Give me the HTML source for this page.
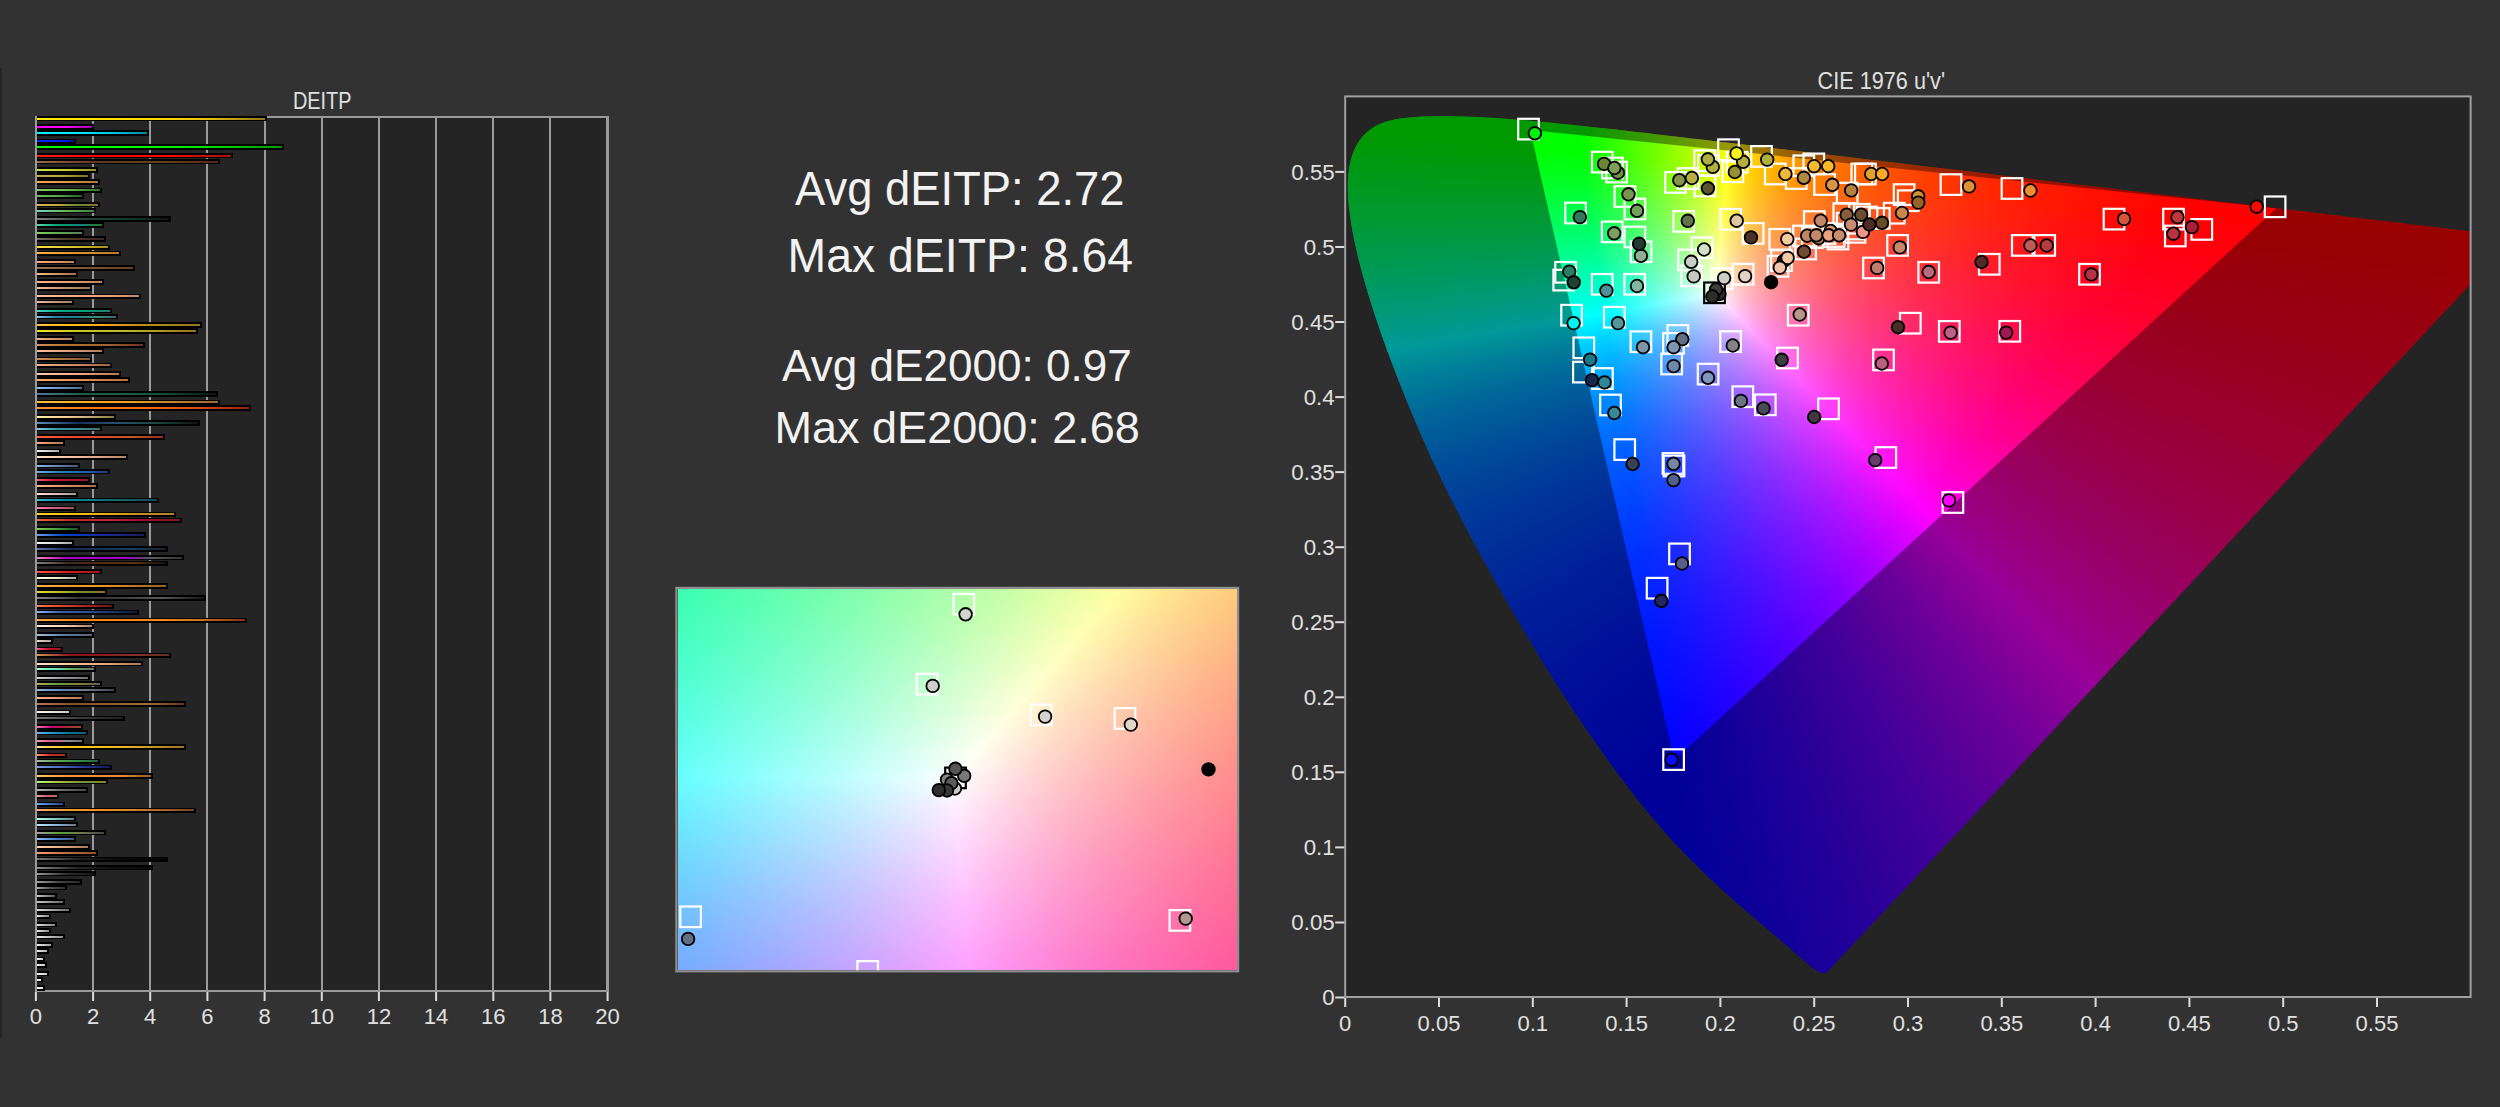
<!DOCTYPE html><html><head><meta charset="utf-8"><title>dEITP</title><style>
html,body{margin:0;padding:0;background:#323232;width:2500px;height:1107px}
#p{position:absolute;left:0;top:0;width:2500px;height:1107px;overflow:hidden;background:#323232;font-family:"Liberation Sans",sans-serif}
#p div{position:absolute}
.k{background:#000;height:5.6px;left:37px}.c{height:2px;left:37px}
svg{position:absolute;left:0;top:0}text{font-family:"Liberation Sans",sans-serif}
</style></head><body><div id="p">
<div style="left:35.9px;top:116.7px;width:571.7px;height:874.3px;background:#242424"></div>
<div style="left:34.9px;top:116.7px;width:2px;height:874.3px;background:#9a9a9a"></div><div style="left:92.1px;top:116.7px;width:2px;height:874.3px;background:#9a9a9a"></div><div style="left:149.2px;top:116.7px;width:2px;height:874.3px;background:#9a9a9a"></div><div style="left:206.4px;top:116.7px;width:2px;height:874.3px;background:#9a9a9a"></div><div style="left:263.6px;top:116.7px;width:2px;height:874.3px;background:#9a9a9a"></div><div style="left:320.8px;top:116.7px;width:2px;height:874.3px;background:#9a9a9a"></div><div style="left:377.9px;top:116.7px;width:2px;height:874.3px;background:#9a9a9a"></div><div style="left:435.1px;top:116.7px;width:2px;height:874.3px;background:#9a9a9a"></div><div style="left:492.3px;top:116.7px;width:2px;height:874.3px;background:#9a9a9a"></div><div style="left:549.4px;top:116.7px;width:2px;height:874.3px;background:#9a9a9a"></div><div style="left:606.6px;top:116.7px;width:2px;height:874.3px;background:#9a9a9a"></div>
<div style="left:34.9px;top:115.7px;width:573.7px;height:2px;background:#9a9a9a"></div>
<div style="left:34.9px;top:990.0px;width:573.7px;height:2px;background:#9a9a9a"></div>
<div style="left:0;top:68.2px;width:1.6px;height:969px;background:#242424"></div>
<div style="left:605.6px;top:115.7px;width:3.4px;height:876.3px;background:#9a9a9a"></div>
<div class="k" style="top:115.8px;width:230.4px"></div><div class="c" style="top:117.5px;width:228.4px;background:linear-gradient(90deg,#ffeb00,#ffe100,#ffdc00,#e6be14,#967814)"></div><div class="k" style="top:124.2px;width:57.0px"></div><div class="c" style="top:125.9px;width:55.0px;background:linear-gradient(90deg,#ff00ff,#ff00ff,#a000aa)"></div><div class="k" style="top:130.0px;width:112.2px"></div><div class="c" style="top:131.7px;width:110.2px;background:linear-gradient(90deg,#00f0ff,#00ebff,#00c8e6,#008c96)"></div><div class="k" style="top:138.5px;width:38.7px"></div><div class="c" style="top:140.2px;width:36.7px;background:linear-gradient(90deg,#0028ff,#001eff,#0014aa)"></div><div class="k" style="top:144.4px;width:247.2px"></div><div class="c" style="top:146.1px;width:245.2px;background:linear-gradient(90deg,#00ff00,#00ff00,#00e600,#009600)"></div><div class="k" style="top:152.8px;width:195.9px"></div><div class="c" style="top:154.5px;width:193.9px;background:linear-gradient(90deg,#ff1e14,#ff0000,#ff0a00,#a0140a)"></div><div class="k" style="top:158.9px;width:183.4px"></div><div class="c" style="top:160.6px;width:181.4px;background:linear-gradient(90deg,#966e50,#5a3723,#64461e,#502819)"></div><div class="k" style="top:167.0px;width:60.9px"></div><div class="c" style="top:168.7px;width:58.9px;background:linear-gradient(90deg,#bee646,#c8c832,#968c28)"></div><div class="k" style="top:173.2px;width:53.3px"></div><div class="c" style="top:174.9px;width:51.3px;background:linear-gradient(90deg,#c8aa50,#b4aa32,#826e28)"></div><div class="k" style="top:179.2px;width:63.0px"></div><div class="c" style="top:180.9px;width:61.0px;background:linear-gradient(90deg,#faaa5a,#dc9646,#aa783c)"></div><div class="k" style="top:187.5px;width:64.7px"></div><div class="c" style="top:189.2px;width:62.7px;background:linear-gradient(90deg,#82c86e,#6eb450,#287828)"></div><div class="k" style="top:193.3px;width:46.6px"></div><div class="c" style="top:195.0px;width:44.6px;background:linear-gradient(90deg,#6ebe5a,#5aa050,#1e6428)"></div><div class="k" style="top:201.8px;width:63.0px"></div><div class="c" style="top:203.5px;width:61.0px;background:linear-gradient(90deg,#dcb464,#beaa3c,#648c3c,#966e28)"></div><div class="k" style="top:207.8px;width:58.7px"></div><div class="c" style="top:209.5px;width:56.7px;background:linear-gradient(90deg,#78d2be,#6eb45a,#3c8246)"></div><div class="k" style="top:216.2px;width:134.3px"></div><div class="c" style="top:217.9px;width:132.3px;background:linear-gradient(90deg,#828282,#284632,#143c32,#0a140f)"></div><div class="k" style="top:222.0px;width:67.1px"></div><div class="c" style="top:223.7px;width:65.1px;background:linear-gradient(90deg,#64d2aa,#00a06e,#148282,#287828)"></div><div class="k" style="top:230.4px;width:46.6px"></div><div class="c" style="top:232.1px;width:44.6px;background:linear-gradient(90deg,#82d264,#5aaa50,#5a825a)"></div><div class="k" style="top:236.3px;width:69.0px"></div><div class="c" style="top:238.0px;width:67.0px;background:linear-gradient(90deg,#6e6e6e,#503728,#3c281e)"></div><div class="k" style="top:244.6px;width:73.0px"></div><div class="c" style="top:246.3px;width:71.0px;background:linear-gradient(90deg,#ffdc46,#dcc832,#aa8c1e)"></div><div class="k" style="top:250.6px;width:83.8px"></div><div class="c" style="top:252.3px;width:81.8px;background:linear-gradient(90deg,#fab446,#dc9628,#b47832)"></div><div class="k" style="top:258.9px;width:38.7px"></div><div class="c" style="top:260.6px;width:36.7px;background:linear-gradient(90deg,#ffaa82,#dc966e,#b4825a)"></div><div class="k" style="top:265.0px;width:97.6px"></div><div class="c" style="top:266.7px;width:95.6px;background:linear-gradient(90deg,#96785a,#825532,#6e3c28)"></div><div class="k" style="top:271.0px;width:40.7px"></div><div class="c" style="top:272.7px;width:38.7px;background:linear-gradient(90deg,#f0be8c,#c89664,#a06e50)"></div><div class="k" style="top:279.3px;width:67.1px"></div><div class="c" style="top:281.0px;width:65.1px;background:linear-gradient(90deg,#fab48c,#e6a078,#be825a)"></div><div class="k" style="top:285.2px;width:54.9px"></div><div class="c" style="top:286.9px;width:52.9px;background:linear-gradient(90deg,#f0be96,#c8966e,#a0785a)"></div><div class="k" style="top:293.5px;width:104.0px"></div><div class="c" style="top:295.2px;width:102.0px;background:linear-gradient(90deg,#ffc8a0,#faaa82,#f0a082,#be8c64)"></div><div class="k" style="top:299.5px;width:36.6px"></div><div class="c" style="top:301.2px;width:34.6px;background:linear-gradient(90deg,#f0bea0,#c89678,#a08264)"></div><div class="k" style="top:307.8px;width:74.9px"></div><div class="c" style="top:309.5px;width:72.9px;background:linear-gradient(90deg,#50d2c8,#00aa82,#00a078,#32786e)"></div><div class="k" style="top:313.8px;width:81.4px"></div><div class="c" style="top:315.5px;width:79.4px;background:linear-gradient(90deg,#8cbee6,#2882a0,#1e828c,#3c8c6e,#466482)"></div><div class="k" style="top:322.3px;width:165.1px"></div><div class="c" style="top:324.0px;width:163.1px;background:linear-gradient(90deg,#ffbe46,#ffbe14,#faaa14,#c88c1e,#a08c14,#966e28)"></div><div class="k" style="top:328.2px;width:161.1px"></div><div class="c" style="top:329.9px;width:159.1px;background:linear-gradient(90deg,#f0e61e,#c8c828,#bebe28,#aaa01e,#966e28)"></div><div class="k" style="top:336.3px;width:36.6px"></div><div class="c" style="top:338.0px;width:34.6px;background:linear-gradient(90deg,#fab48c,#d2966e,#b48264)"></div><div class="k" style="top:342.3px;width:107.9px"></div><div class="c" style="top:344.0px;width:105.9px;background:linear-gradient(90deg,#d28c5a,#b46e28,#a06432,#6e3228)"></div><div class="k" style="top:348.4px;width:67.1px"></div><div class="c" style="top:350.1px;width:65.1px;background:linear-gradient(90deg,#fabe96,#dca082,#aa825a)"></div><div class="k" style="top:356.6px;width:54.9px"></div><div class="c" style="top:358.3px;width:52.9px;background:linear-gradient(90deg,#d28c50,#aa6e3c,#825a32)"></div><div class="k" style="top:362.6px;width:75.1px"></div><div class="c" style="top:364.3px;width:73.1px;background:linear-gradient(90deg,#fab48c,#d28c6e,#a06446)"></div><div class="k" style="top:371.2px;width:83.8px"></div><div class="c" style="top:372.9px;width:81.8px;background:linear-gradient(90deg,#ffc8aa,#f0aa8c,#b47850)"></div><div class="k" style="top:377.1px;width:93.3px"></div><div class="c" style="top:378.8px;width:91.3px;background:linear-gradient(90deg,#ffaa64,#e68c50,#b46e3c)"></div><div class="k" style="top:385.4px;width:46.6px"></div><div class="c" style="top:387.1px;width:44.6px;background:linear-gradient(90deg,#8cbef0,#6e96c8,#506e8c)"></div><div class="k" style="top:391.4px;width:181.3px"></div><div class="c" style="top:393.1px;width:179.3px;background:linear-gradient(90deg,#5078a0,#1e5a46,#1e5f4b,#144637,#0a1412)"></div><div class="k" style="top:399.6px;width:183.4px"></div><div class="c" style="top:401.3px;width:181.4px;background:linear-gradient(90deg,#ffbe3c,#ffaf1e,#f0a01e,#c88232,#a06432)"></div><div class="k" style="top:405.4px;width:214.2px"></div><div class="c" style="top:407.1px;width:212.2px;background:linear-gradient(90deg,#ff963c,#ff7814,#ff6e0a,#dc5014,#961e14)"></div><div class="k" style="top:414.0px;width:79.0px"></div><div class="c" style="top:415.7px;width:77.0px;background:linear-gradient(90deg,#ffebaa,#fad296,#c8aa82,#82823c)"></div><div class="k" style="top:420.0px;width:162.9px"></div><div class="c" style="top:421.7px;width:160.9px;background:linear-gradient(90deg,#5a8cb4,#14325a,#28506e,#1e463c,#0f1414)"></div><div class="k" style="top:425.9px;width:65.0px"></div><div class="c" style="top:427.6px;width:63.0px;background:linear-gradient(90deg,#8cc8e6,#3296a0,#3c8c96,#466e6e)"></div><div class="k" style="top:434.4px;width:128.4px"></div><div class="c" style="top:436.1px;width:126.4px;background:linear-gradient(90deg,#ff6446,#eb4b28,#dc4632,#be5a1e,#a02828)"></div><div class="k" style="top:440.3px;width:27.9px"></div><div class="c" style="top:442.0px;width:25.9px;background:linear-gradient(90deg,#ffaa82,#d28c64,#aa7850)"></div><div class="k" style="top:448.6px;width:24.2px"></div><div class="c" style="top:450.3px;width:22.2px;background:linear-gradient(90deg,#f5faf0,#d2d2d2,#aaaaaa)"></div><div class="k" style="top:454.4px;width:91.4px"></div><div class="c" style="top:456.1px;width:89.4px;background:linear-gradient(90deg,#ffe1c3,#fac8aa,#dcaa8c,#b48264)"></div><div class="k" style="top:462.9px;width:42.5px"></div><div class="c" style="top:464.6px;width:40.5px;background:linear-gradient(90deg,#96b4e6,#6482b4,#465a6e)"></div><div class="k" style="top:468.8px;width:72.8px"></div><div class="c" style="top:470.5px;width:70.8px;background:linear-gradient(90deg,#6eaae6,#1e82aa,#1e64aa,#1e3c78)"></div><div class="k" style="top:477.2px;width:52.8px"></div><div class="c" style="top:478.9px;width:50.8px;background:linear-gradient(90deg,#f05a78,#c81432,#aa143c,#821e1e)"></div><div class="k" style="top:483.3px;width:60.7px"></div><div class="c" style="top:485.0px;width:58.7px;background:linear-gradient(90deg,#ffb496,#dc8c6e,#aa6e50)"></div><div class="k" style="top:491.6px;width:40.7px"></div><div class="c" style="top:493.3px;width:38.7px;background:linear-gradient(90deg,#ffe1d7,#dcbeb4,#aa968c)"></div><div class="k" style="top:497.5px;width:121.9px"></div><div class="c" style="top:499.2px;width:119.9px;background:linear-gradient(90deg,#3cb4c8,#00879b,#0a7882,#14645a,#14465a)"></div><div class="k" style="top:505.5px;width:38.7px"></div><div class="c" style="top:507.2px;width:36.7px;background:linear-gradient(90deg,#ff78aa,#d25a8c,#965a3c)"></div><div class="k" style="top:511.7px;width:138.6px"></div><div class="c" style="top:513.4px;width:136.6px;background:linear-gradient(90deg,#ffd228,#fabe14,#f0aa14,#c88c28,#b48228)"></div><div class="k" style="top:517.6px;width:144.9px"></div><div class="c" style="top:519.3px;width:142.9px;background:linear-gradient(90deg,#e66e46,#be2828,#be2832,#a00a32,#781e1e)"></div><div class="k" style="top:526.1px;width:42.5px"></div><div class="c" style="top:527.8px;width:40.5px;background:linear-gradient(90deg,#82d25a,#46a03c,#145a1e)"></div><div class="k" style="top:532.1px;width:108.9px"></div><div class="c" style="top:533.8px;width:106.9px;background:linear-gradient(90deg,#6ea0dc,#0046c8,#1432aa,#1e2882,#141e5a)"></div><div class="k" style="top:540.4px;width:36.6px"></div><div class="c" style="top:542.1px;width:34.6px;background:linear-gradient(90deg,#f5f5f5,#dcdcdc,#a0a0a0)"></div><div class="k" style="top:546.3px;width:130.5px"></div><div class="c" style="top:548.0px;width:128.5px;background:linear-gradient(90deg,#5a78b4,#142850,#19325a,#143c64,#1e1e28)"></div><div class="k" style="top:554.8px;width:146.7px"></div><div class="c" style="top:556.5px;width:144.7px;background:linear-gradient(90deg,#e68cb4,#aa00be,#a000c8,#9600c8,#5a5a5a,#3c3232)"></div><div class="k" style="top:560.7px;width:130.5px"></div><div class="c" style="top:562.4px;width:128.5px;background:linear-gradient(90deg,#828282,#3c281e,#502d19,#5a3214,#140f0a)"></div><div class="k" style="top:568.9px;width:65.0px"></div><div class="c" style="top:570.6px;width:63.0px;background:linear-gradient(90deg,#ff5046,#d21e1e,#96141e)"></div><div class="k" style="top:574.9px;width:40.7px"></div><div class="c" style="top:576.6px;width:38.7px;background:linear-gradient(90deg,#ffffeb,#e1f0cd,#aaaaa0)"></div><div class="k" style="top:583.4px;width:130.5px"></div><div class="c" style="top:585.1px;width:128.5px;background:linear-gradient(90deg,#ffb446,#f59b2d,#f09628,#be7828,#8c6428)"></div><div class="k" style="top:589.3px;width:69.5px"></div><div class="c" style="top:591.0px;width:67.5px;background:linear-gradient(90deg,#e6d73c,#bebe1e,#6e8c32,#966e1e)"></div><div class="k" style="top:595.4px;width:168.9px"></div><div class="c" style="top:597.1px;width:166.9px;background:linear-gradient(90deg,#828282,#373737,#3c3c3c,#5a5a5a,#141414)"></div><div class="k" style="top:603.6px;width:77.1px"></div><div class="c" style="top:605.3px;width:75.1px;background:linear-gradient(90deg,#ff7864,#dc4628,#a02828,#6e1414)"></div><div class="k" style="top:609.6px;width:101.9px"></div><div class="c" style="top:611.3px;width:99.9px;background:linear-gradient(90deg,#8cb4e6,#3c5aa0,#325096,#1e3264,#141932)"></div><div class="k" style="top:617.7px;width:209.9px"></div><div class="c" style="top:619.4px;width:207.9px;background:linear-gradient(90deg,#ffaa46,#ff8214,#fa8214,#f08c1e,#c86e1e,#823214)"></div><div class="k" style="top:623.7px;width:56.8px"></div><div class="c" style="top:625.4px;width:54.8px;background:linear-gradient(90deg,#fff5e1,#fad2be,#aa8264)"></div><div class="k" style="top:632.2px;width:56.8px"></div><div class="c" style="top:633.9px;width:54.8px;background:linear-gradient(90deg,#aabedc,#5a78aa,#5a646e)"></div><div class="k" style="top:638.1px;width:15.5px"></div><div class="c" style="top:639.8px;width:13.5px;background:linear-gradient(90deg,#ebd7cd,#b4a096)"></div><div class="k" style="top:646.6px;width:26.1px"></div><div class="c" style="top:648.3px;width:24.1px;background:linear-gradient(90deg,#f55a8c,#c80a32,#961e1e)"></div><div class="k" style="top:652.5px;width:134.3px"></div><div class="c" style="top:654.2px;width:132.3px;background:linear-gradient(90deg,#d2965a,#8c141e,#871e23,#823228,#64321e)"></div><div class="k" style="top:660.8px;width:105.7px"></div><div class="c" style="top:662.5px;width:103.7px;background:linear-gradient(90deg,#ffe1b9,#fac8a0,#dcaa82,#aa7850)"></div><div class="k" style="top:666.6px;width:58.7px"></div><div class="c" style="top:668.3px;width:56.7px;background:linear-gradient(90deg,#a0ffd2,#6ee6b4,#64aa50,#6e6e6e)"></div><div class="k" style="top:674.9px;width:52.8px"></div><div class="c" style="top:676.6px;width:50.8px;background:linear-gradient(90deg,#d2d2d2,#9696a0,#6e6e6e)"></div><div class="k" style="top:680.9px;width:64.7px"></div><div class="c" style="top:682.6px;width:62.7px;background:linear-gradient(90deg,#c8a050,#5aa046,#828232,#5a5a5a)"></div><div class="k" style="top:687.1px;width:79.0px"></div><div class="c" style="top:688.8px;width:77.0px;background:linear-gradient(90deg,#96b4dc,#5a82be,#6e7882,#3c4650)"></div><div class="k" style="top:695.4px;width:46.6px"></div><div class="c" style="top:697.1px;width:44.6px;background:linear-gradient(90deg,#ffb48c,#dc966e,#aa7850)"></div><div class="k" style="top:701.4px;width:148.9px"></div><div class="c" style="top:703.1px;width:146.9px;background:linear-gradient(90deg,#b47850,#825028,#8c5f32,#a06e3c,#64321e)"></div><div class="k" style="top:709.7px;width:34.1px"></div><div class="c" style="top:711.4px;width:32.1px;background:linear-gradient(90deg,#fffaf0,#e6e1dc,#c8c8c8)"></div><div class="k" style="top:715.7px;width:87.9px"></div><div class="c" style="top:717.4px;width:85.9px;background:linear-gradient(90deg,#787878,#3c3c3c,#1e1e1e)"></div><div class="k" style="top:724.1px;width:46.3px"></div><div class="c" style="top:725.8px;width:44.3px;background:linear-gradient(90deg,#f082a0,#c80078,#aa283c,#965032)"></div><div class="k" style="top:729.8px;width:50.6px"></div><div class="c" style="top:731.5px;width:48.6px;background:linear-gradient(90deg,#6eaaf0,#1e96c8,#007896,#1e5a78)"></div><div class="k" style="top:738.2px;width:46.6px"></div><div class="c" style="top:739.9px;width:44.6px;background:linear-gradient(90deg,#f0a0b4,#dc5a96,#968c96,#6e6e6e)"></div><div class="k" style="top:744.3px;width:148.7px"></div><div class="c" style="top:746.0px;width:146.7px;background:linear-gradient(90deg,#ffe18c,#ffc814,#fac319,#e6b428,#be9628,#a06e32)"></div><div class="k" style="top:752.6px;width:30.1px"></div><div class="c" style="top:754.3px;width:28.1px;background:linear-gradient(90deg,#fa9664,#c82828,#a03228)"></div><div class="k" style="top:758.7px;width:62.5px"></div><div class="c" style="top:760.4px;width:60.5px;background:linear-gradient(90deg,#aab4aa,#5aaa50,#3c8c46,#286446)"></div><div class="k" style="top:764.7px;width:74.9px"></div><div class="c" style="top:766.4px;width:72.9px;background:linear-gradient(90deg,#78a0e6,#506ebe,#283296,#141e5a)"></div><div class="k" style="top:773.0px;width:116.0px"></div><div class="c" style="top:774.7px;width:114.0px;background:linear-gradient(90deg,#ffc86e,#fa9632,#f09137,#dc8c3c,#a05a28)"></div><div class="k" style="top:778.8px;width:70.6px"></div><div class="c" style="top:780.5px;width:68.6px;background:linear-gradient(90deg,#b4fa82,#aabe32,#6e963c,#8c8228)"></div><div class="k" style="top:787.2px;width:50.6px"></div><div class="c" style="top:788.9px;width:48.6px;background:linear-gradient(90deg,#b4b4b4,#6e6e6e,#464646)"></div><div class="k" style="top:793.1px;width:22.2px"></div><div class="c" style="top:794.8px;width:20.2px;background:linear-gradient(90deg,#faa078,#c85a82,#b4783c)"></div><div class="k" style="top:801.5px;width:27.9px"></div><div class="c" style="top:803.2px;width:25.9px;background:linear-gradient(90deg,#6eaaf0,#466eb4,#284682)"></div><div class="k" style="top:807.5px;width:158.9px"></div><div class="c" style="top:809.2px;width:156.9px;background:linear-gradient(90deg,#ffaa82,#f09628,#eb8c28,#dc8228,#aa6432,#6e4628)"></div><div class="k" style="top:815.9px;width:38.7px"></div><div class="c" style="top:817.6px;width:36.7px;background:linear-gradient(90deg,#b4fff0,#82c8c8,#648296)"></div><div class="k" style="top:821.8px;width:40.7px"></div><div class="c" style="top:823.5px;width:38.7px;background:linear-gradient(90deg,#bee6fa,#8cb4dc,#6e7882)"></div><div class="k" style="top:829.8px;width:69.3px"></div><div class="c" style="top:831.5px;width:67.3px;background:linear-gradient(90deg,#a0a0a0,#5aa03c,#6e7850,#464646)"></div><div class="k" style="top:836.0px;width:38.7px"></div><div class="c" style="top:837.7px;width:36.7px;background:linear-gradient(90deg,#8cbefa,#5082d2,#3c5a82)"></div><div class="k" style="top:844.4px;width:52.8px"></div><div class="c" style="top:846.1px;width:50.8px;background:linear-gradient(90deg,#ffd2aa,#e6aa82,#aa785a)"></div><div class="k" style="top:850.3px;width:60.7px"></div><div class="c" style="top:852.0px;width:58.7px;background:linear-gradient(90deg,#f0a06e,#be6e3c,#8c5032)"></div><div class="k" style="top:856.5px;width:130.5px"></div><div class="c" style="top:858.2px;width:128.5px;background:linear-gradient(90deg,#787878,#1e1e1e,#080808,#050505)"></div><div class="k" style="top:864.9px;width:116.0px"></div><div class="c" style="top:866.6px;width:114.0px;background:linear-gradient(90deg,#8c8c8c,#282828,#0f0f0f,#0a0a0a)"></div><div class="k" style="top:870.9px;width:58.7px"></div><div class="c" style="top:872.6px;width:56.7px;background:linear-gradient(90deg,#969696,#323232,#141414)"></div><div class="k" style="top:879.2px;width:44.7px"></div><div class="c" style="top:880.9px;width:42.7px;background:linear-gradient(90deg,#a0a0a0,#464646,#282828)"></div><div class="k" style="top:884.9px;width:30.1px"></div><div class="c" style="top:886.6px;width:28.1px;background:linear-gradient(90deg,#aaaaaa,#505050,#323232)"></div><div class="k" style="top:893.3px;width:20.0px"></div><div class="c" style="top:895.0px;width:18.0px;background:linear-gradient(90deg,#c8c8c8,#5a5a5a)"></div><div class="k" style="top:899.2px;width:27.9px"></div><div class="c" style="top:900.9px;width:25.9px;background:linear-gradient(90deg,#c8c8c8,#646464)"></div><div class="k" style="top:907.6px;width:33.9px"></div><div class="c" style="top:909.3px;width:31.9px;background:linear-gradient(90deg,#dcdcdc,#6e6e6e)"></div><div class="k" style="top:913.6px;width:13.6px"></div><div class="c" style="top:915.3px;width:11.6px;background:linear-gradient(90deg,#e1e1e1,#8c8c8c)"></div><div class="k" style="top:921.9px;width:20.1px"></div><div class="c" style="top:923.6px;width:18.1px;background:linear-gradient(90deg,#e1e1e1,#828282)"></div><div class="k" style="top:927.9px;width:13.9px"></div><div class="c" style="top:929.6px;width:11.9px;background:linear-gradient(90deg,#e6e6e6,#8c8c8c)"></div><div class="k" style="top:933.8px;width:27.9px"></div><div class="c" style="top:935.5px;width:25.9px;background:linear-gradient(90deg,#ebebeb,#8c8c8c)"></div><div class="k" style="top:942.1px;width:15.5px"></div><div class="c" style="top:943.8px;width:13.5px;background:linear-gradient(90deg,#ebebeb,#a0a0a0)"></div><div class="k" style="top:948.1px;width:11.7px"></div><div class="c" style="top:949.8px;width:9.7px;background:linear-gradient(90deg,#f0f0f0,#aaaaaa)"></div><div class="k" style="top:956.5px;width:7.7px"></div><div class="c" style="top:958.2px;width:5.7px;background:linear-gradient(90deg,#f5f5f5,#bebebe)"></div><div class="k" style="top:962.4px;width:9.8px"></div><div class="c" style="top:964.1px;width:7.8px;background:linear-gradient(90deg,#f5f5f5,#c8c8c8)"></div><div class="k" style="top:970.8px;width:11.7px"></div><div class="c" style="top:972.5px;width:9.7px;background:linear-gradient(90deg,#fafafa,#c8c8c8)"></div><div class="k" style="top:976.8px;width:5.8px"></div><div class="c" style="top:978.5px;width:3.8px;background:linear-gradient(90deg,#fafafa,#dcdcdc)"></div><div class="k" style="top:985.0px;width:8.0px"></div><div class="c" style="top:986.7px;width:6.0px;background:linear-gradient(90deg,#ffffff,#e6e6e6)"></div>
<div style="left:1345.2px;top:96.4px;width:1125.4px;height:900.6px;background:#242424"></div>
<div style="position:absolute;left:0;top:0;width:2500px;height:1107px;clip-path:polygon(1827.0px 972.1px,1826.9px 972.1px,1826.8px 972.2px,1826.8px 972.2px,1826.7px 972.3px,1826.6px 972.4px,1826.5px 972.4px,1826.4px 972.5px,1826.3px 972.6px,1826.1px 972.7px,1826.0px 972.7px,1825.8px 972.8px,1825.7px 972.9px,1825.5px 972.9px,1825.3px 973.0px,1825.1px 973.0px,1824.9px 973.1px,1824.7px 973.1px,1824.5px 973.1px,1824.2px 973.1px,1824.0px 973.1px,1823.7px 973.1px,1823.4px 973.1px,1823.1px 973.1px,1822.8px 973.1px,1822.5px 973.1px,1822.1px 973.1px,1821.7px 973.0px,1821.2px 972.9px,1820.7px 972.8px,1820.1px 972.6px,1819.5px 972.2px,1818.7px 971.8px,1817.8px 971.3px,1816.7px 970.7px,1815.6px 969.9px,1814.3px 968.9px,1812.9px 967.9px,1811.4px 966.7px,1809.7px 965.3px,1807.8px 963.8px,1805.8px 962.1px,1803.7px 960.3px,1801.4px 958.3px,1799.0px 956.2px,1796.3px 953.9px,1793.5px 951.4px,1790.5px 948.8px,1787.4px 946.1px,1784.0px 943.2px,1780.4px 940.1px,1776.6px 936.8px,1772.6px 933.4px,1768.3px 929.8px,1763.8px 925.9px,1759.1px 921.8px,1754.0px 917.5px,1748.7px 912.9px,1743.0px 908.1px,1737.1px 902.9px,1730.9px 897.4px,1724.4px 891.6px,1717.6px 885.4px,1710.5px 878.8px,1703.1px 871.8px,1695.4px 864.3px,1687.4px 856.3px,1679.0px 847.6px,1669.9px 837.7px,1660.1px 826.6px,1649.5px 814.0px,1638.1px 799.9px,1626.1px 784.4px,1613.5px 767.7px,1600.4px 749.6px,1586.9px 730.3px,1573.0px 709.7px,1558.8px 687.8px,1544.2px 664.5px,1529.5px 640.1px,1514.6px 614.8px,1499.6px 588.8px,1484.8px 562.4px,1470.2px 535.7px,1456.2px 508.9px,1442.8px 482.2px,1430.3px 455.7px,1418.8px 429.7px,1408.1px 404.3px,1398.3px 379.8px,1389.4px 356.3px,1381.3px 334.0px,1374.2px 312.9px,1368.0px 293.2px,1362.7px 275.0px,1358.3px 258.2px,1354.8px 242.7px,1352.0px 228.6px,1350.0px 215.6px,1348.6px 203.9px,1347.9px 193.1px,1347.8px 183.3px,1348.4px 174.3px,1349.5px 166.2px,1351.1px 158.7px,1353.4px 152.0px,1356.1px 146.0px,1359.3px 140.7px,1363.0px 136.0px,1367.1px 131.9px,1371.6px 128.5px,1376.4px 125.6px,1381.5px 123.3px,1386.8px 121.4px,1392.4px 119.9px,1398.3px 118.8px,1404.3px 118.0px,1410.5px 117.4px,1416.8px 116.9px,1423.3px 116.6px,1429.8px 116.4px,1436.4px 116.3px,1443.0px 116.3px,1449.6px 116.3px,1456.2px 116.4px,1462.9px 116.5px,1469.6px 116.8px,1476.4px 117.0px,1483.3px 117.4px,1490.3px 117.8px,1497.4px 118.2px,1504.7px 118.7px,1512.1px 119.3px,1519.6px 119.9px,1527.4px 120.6px,1535.3px 121.3px,1543.4px 122.0px,1551.6px 122.8px,1560.1px 123.7px,1568.7px 124.5px,1577.6px 125.5px,1586.7px 126.4px,1596.0px 127.5px,1605.5px 128.5px,1615.3px 129.6px,1625.4px 130.7px,1635.7px 131.9px,1646.2px 133.1px,1657.1px 134.4px,1668.2px 135.7px,1679.6px 137.0px,1691.3px 138.4px,1703.2px 139.8px,1715.5px 141.2px,1728.0px 142.7px,1740.9px 144.2px,1754.0px 145.8px,1767.5px 147.4px,1781.2px 149.1px,1795.3px 150.7px,1809.6px 152.5px,1824.3px 154.2px,1839.2px 156.0px,1854.5px 157.8px,1870.1px 159.7px,1885.9px 161.6px,1901.9px 163.5px,1918.1px 165.4px,1934.5px 167.4px,1951.0px 169.3px,1967.7px 171.3px,1984.4px 173.3px,2001.2px 175.4px,2018.0px 177.4px,2034.7px 179.4px,2051.5px 181.4px,2068.1px 183.4px,2084.7px 185.4px,2101.1px 187.3px,2117.3px 189.3px,2133.4px 191.2px,2149.2px 193.1px,2164.7px 194.9px,2179.9px 196.7px,2194.7px 198.5px,2209.2px 200.2px,2223.2px 201.9px,2236.8px 203.5px,2249.9px 205.1px,2262.5px 206.6px,2274.7px 208.0px,2286.4px 209.5px,2297.6px 210.8px,2308.4px 212.1px,2318.7px 213.3px,2328.5px 214.5px,2338.0px 215.6px,2346.9px 216.7px,2355.6px 217.7px,2363.8px 218.7px,2371.7px 219.7px,2379.4px 220.6px,2386.7px 221.5px,2393.8px 222.3px,2400.7px 223.1px,2407.4px 223.9px,2413.8px 224.7px,2419.9px 225.4px,2425.8px 226.1px,2431.4px 226.8px,2436.7px 227.5px,2441.8px 228.1px,2446.6px 228.6px,2451.1px 229.2px,2455.3px 229.7px,2459.3px 230.1px,2463.1px 230.6px,2466.7px 231.0px,2469.6px 231.3px,2469.6px 285.0px)"><div style="position:absolute;left:0;top:0;width:2500px;height:1107px;isolation:isolate;clip-path:polygon(1714.9px 294.3px,2074.0px -3689.5px,5656.5px -386.2px,4494.7px 3170.5px)"><div style="position:absolute;left:0;top:0;width:2500px;height:1107px;background:conic-gradient(from 236.9727deg at 1674.32px 760.00px,#ffff00 119.9623deg,#ffff00 128.1918deg,#ffe000 129.6300deg,#ffc300 131.3079deg,#ffa600 133.3053deg,#ff8b00 135.7023deg,#ff7100 138.5786deg,#ff5800 142.0941deg,#ff3f00 146.4885deg,#ff2800 152.0015deg,#ff1200 159.1124deg,#ff0000 166.5430deg,#ff0000 239.7297deg);"></div><div style="position:absolute;left:0;top:0;width:2500px;height:1107px;background:conic-gradient(from 294.8697deg at 1579.70px 152.69px,#000000 129.9612deg,#000001 160.8531deg,#00002f 171.5582deg,#000058 179.5615deg,#00007e 185.9845deg,#0000a3 191.2861deg,#0000c8 195.7721deg,#0000ee 199.5953deg,#0000ff 201.1756deg,#0000ff 206.3752deg);mix-blend-mode:screen;"></div></div><div style="position:absolute;left:0;top:0;width:2500px;height:1107px;isolation:isolate;clip-path:polygon(1717.4px 295.1px,-2224.3px 975.7px,-1062.5px -2581.1px,2076.5px -3688.7px)"><div style="position:absolute;left:0;top:0;width:2500px;height:1107px;background:conic-gradient(from 164.8017deg at 1674.32px 760.00px,#00ff00 152.6047deg,#00ff00 186.3653deg,#3aff00 190.1621deg,#73ff00 193.5142deg,#acff00 196.5243deg,#e5ff00 199.2265deg,#ffff00 200.3553deg,#ffff00 203.8784deg);"></div><div style="position:absolute;left:0;top:0;width:2500px;height:1107px;background:conic-gradient(from 90.2177deg at 2190.72px 212.15px,#0000ff 168.0917deg,#0000fe 170.0120deg,#0000c8 172.6340deg,#000092 175.5514deg,#00005c 178.8196deg,#000026 182.5125deg,#000000 185.3930deg,#000000 195.7702deg);mix-blend-mode:screen;"></div></div><div style="position:absolute;left:0;top:0;width:2500px;height:1107px;isolation:isolate;clip-path:polygon(1716.5px 292.6px,4496.3px 3168.7px,1357.3px 4276.4px,-2225.2px 973.1px)"><div style="position:absolute;left:0;top:0;width:2500px;height:1107px;background:conic-gradient(from 344.5888deg at 1579.70px 152.69px,#ff00ff 143.9885deg,#fe00ff 151.4321deg,#d400ff 155.3687deg,#aa00ff 159.9494deg,#8000ff 165.3174deg,#5400ff 171.7590deg,#2400ff 179.8468deg,#0000ff 186.6462deg,#0000ff 251.2770deg);"></div><div style="position:absolute;left:0;top:0;width:2500px;height:1107px;background:conic-gradient(from 42.1276deg at 2190.72px 212.15px,#000000 115.7885deg,#000100 181.4570deg,#001800 189.8122deg,#003000 196.2618deg,#004900 201.3188deg,#006200 205.4231deg,#007d00 208.7945deg,#009900 211.5796deg,#00b600 213.9249deg,#00d500 215.9037deg,#00f500 217.5894deg,#00ff00 218.1024deg,#00ff00 225.6514deg);mix-blend-mode:screen;"></div></div><div style="position:absolute;left:0;top:0;width:2500px;height:1107px;background:rgba(0,0,0,0.400);clip-path:polygon(evenodd,0.0px 0.0px,2500.0px 0.0px,2500.0px 1107.0px,0.0px 1107.0px,0.0px 0.0px,1530.2px 129.9px,2276.4px 208.2px,1674.3px 760.0px,1530.2px 129.9px)"></div></div>
<div style="position:absolute;left:677.5px;top:589.0px;width:559.5px;height:381.2px;overflow:hidden;background:#fff"><div style="position:absolute;left:-677.5px;top:-589.0px;width:2500px;height:1107px"><div style="position:absolute;left:0;top:0;width:2500px;height:1107px;isolation:isolate;clip-path:polygon(954.0px 778.0px,3574.7px -2243.9px,4954.0px 769.4px,1222.2px 4769.0px)"><div style="position:absolute;left:0;top:0;width:2500px;height:1107px;background:conic-gradient(from 225.9408deg at 1.29px 1878.21px,#ffff00 173.9649deg,#fffe00 175.0291deg,#ffda00 176.8990deg,#ffb800 179.0474deg,#ff9600 181.5438deg,#ff7600 184.4680deg,#ff5700 187.9292deg,#ff5000 188.8741deg);"></div><div style="position:absolute;left:0;top:0;width:2500px;height:1107px;background:conic-gradient(from 348.3599deg at 881.01px -330.46px,#000075 169.0605deg,#000091 174.6432deg,#0000af 179.2061deg,#0000cd 183.0040deg,#0000ed 186.1980deg,#0000ff 187.8621deg,#0000ff 189.1773deg);mix-blend-mode:screen;"></div></div><div style="position:absolute;left:0;top:0;width:2500px;height:1107px;isolation:isolate;clip-path:polygon(955.6px 779.5px,-3044.4px 788.0px,687.4px -3211.5px,3576.3px -2242.4px)"><div style="position:absolute;left:0;top:0;width:2500px;height:1107px;background:conic-gradient(from 215.5235deg at 1.29px 1878.21px,#2eff00 171.0941deg,#58ff00 174.8472deg,#82ff00 178.1081deg,#adff00 180.9691deg,#d9ff00 183.4917deg,#ffff00 185.4503deg,#ffff00 186.4654deg);"></div><div style="position:absolute;left:0;top:0;width:2500px;height:1107px;background:conic-gradient(from 92.7900deg at 2875.03px 773.87px,#0000ff 176.6289deg,#0000fe 177.1291deg,#0000da 179.1583deg,#0000b7 181.4989deg,#00009b 183.7027deg);mix-blend-mode:screen;"></div></div><div style="position:absolute;left:0;top:0;width:2500px;height:1107px;isolation:isolate;clip-path:polygon(956.5px 776.8px,1224.7px 4767.8px,-1664.3px 3798.7px,-3043.5px 785.4px)"><div style="position:absolute;left:0;top:0;width:2500px;height:1107px;background:conic-gradient(from 2.9458deg at 881.01px -330.46px,#ff00ff 172.0764deg,#fe00ff 173.2755deg,#c200ff 178.5012deg,#8100ff 184.7279deg,#5c00ff 188.5674deg);"></div><div style="position:absolute;left:0;top:0;width:2500px;height:1107px;background:conic-gradient(from 87.1077deg at 2875.03px 773.87px,#009700 176.4776deg,#00c200 179.3519deg,#00ee00 181.8870deg,#00ff00 182.8108deg,#00ff00 183.1679deg);mix-blend-mode:screen;"></div></div></div></div>
<svg width="2500" height="1107" viewBox="0 0 2500 1107"><rect x="34.9" y="992.0" width="2" height="9" fill="#dcdcdc"/><text x="35.9" y="1023.7" font-size="22" fill="#e0e0e0" text-anchor="middle">0</text><rect x="92.1" y="992.0" width="2" height="9" fill="#dcdcdc"/><text x="93.1" y="1023.7" font-size="22" fill="#e0e0e0" text-anchor="middle">2</text><rect x="149.2" y="992.0" width="2" height="9" fill="#dcdcdc"/><text x="150.2" y="1023.7" font-size="22" fill="#e0e0e0" text-anchor="middle">4</text><rect x="206.4" y="992.0" width="2" height="9" fill="#dcdcdc"/><text x="207.4" y="1023.7" font-size="22" fill="#e0e0e0" text-anchor="middle">6</text><rect x="263.6" y="992.0" width="2" height="9" fill="#dcdcdc"/><text x="264.6" y="1023.7" font-size="22" fill="#e0e0e0" text-anchor="middle">8</text><rect x="320.8" y="992.0" width="2" height="9" fill="#dcdcdc"/><text x="321.8" y="1023.7" font-size="22" fill="#e0e0e0" text-anchor="middle">10</text><rect x="377.9" y="992.0" width="2" height="9" fill="#dcdcdc"/><text x="378.9" y="1023.7" font-size="22" fill="#e0e0e0" text-anchor="middle">12</text><rect x="435.1" y="992.0" width="2" height="9" fill="#dcdcdc"/><text x="436.1" y="1023.7" font-size="22" fill="#e0e0e0" text-anchor="middle">14</text><rect x="492.3" y="992.0" width="2" height="9" fill="#dcdcdc"/><text x="493.3" y="1023.7" font-size="22" fill="#e0e0e0" text-anchor="middle">16</text><rect x="549.4" y="992.0" width="2" height="9" fill="#dcdcdc"/><text x="550.4" y="1023.7" font-size="22" fill="#e0e0e0" text-anchor="middle">18</text><rect x="606.6" y="992.0" width="2" height="9" fill="#dcdcdc"/><text x="607.6" y="1023.7" font-size="22" fill="#e0e0e0" text-anchor="middle">20</text><text x="293.0" y="109.1" font-size="23.1" fill="#e0e0e0" textLength="58.5" lengthAdjust="spacingAndGlyphs">DEITP</text><text x="795.0" y="204.9" font-size="48.4" fill="#f2f2f2" textLength="329.6" lengthAdjust="spacingAndGlyphs">Avg dEITP: 2.72</text><text x="787.5" y="272.4" font-size="48.4" fill="#f2f2f2" textLength="345.5" lengthAdjust="spacingAndGlyphs">Max dEITP: 8.64</text><text x="782.1" y="381.2" font-size="45.2" fill="#f2f2f2" textLength="349.7" lengthAdjust="spacingAndGlyphs">Avg dE2000: 0.97</text><text x="774.6" y="442.5" font-size="45.2" fill="#f2f2f2" textLength="365.2" lengthAdjust="spacingAndGlyphs">Max dE2000: 2.68</text><rect x="676.4" y="587.9" width="561.7" height="383.4" fill="none" stroke="#8f8f8f" stroke-width="2.2"/><rect x="1345.2" y="96.4" width="1125.4" height="900.6" fill="none" stroke="#a0a0a0" stroke-width="2"/><text x="1817.6" y="89.1" font-size="23.6" fill="#e0e0e0" textLength="127.5" lengthAdjust="spacingAndGlyphs">CIE 1976 u'v'</text><rect x="1344.2" y="998.0" width="2" height="9" fill="#dcdcdc"/><text x="1345.2" y="1030.5" font-size="22" fill="#e0e0e0" text-anchor="middle">0</text><rect x="1335.2" y="996.5" width="9" height="2" fill="#dcdcdc"/><text x="1334.7" y="1005.4" font-size="22.3" fill="#e0e0e0" text-anchor="end">0</text><rect x="1438.0" y="998.0" width="2" height="9" fill="#dcdcdc"/><text x="1439.0" y="1030.5" font-size="22" fill="#e0e0e0" text-anchor="middle">0.05</text><rect x="1335.2" y="921.5" width="9" height="2" fill="#dcdcdc"/><text x="1334.7" y="930.4" font-size="22.3" fill="#e0e0e0" text-anchor="end">0.05</text><rect x="1531.8" y="998.0" width="2" height="9" fill="#dcdcdc"/><text x="1532.8" y="1030.5" font-size="22" fill="#e0e0e0" text-anchor="middle">0.1</text><rect x="1335.2" y="846.4" width="9" height="2" fill="#dcdcdc"/><text x="1334.7" y="855.3" font-size="22.3" fill="#e0e0e0" text-anchor="end">0.1</text><rect x="1625.6" y="998.0" width="2" height="9" fill="#dcdcdc"/><text x="1626.6" y="1030.5" font-size="22" fill="#e0e0e0" text-anchor="middle">0.15</text><rect x="1335.2" y="771.3" width="9" height="2" fill="#dcdcdc"/><text x="1334.7" y="780.2" font-size="22.3" fill="#e0e0e0" text-anchor="end">0.15</text><rect x="1719.4" y="998.0" width="2" height="9" fill="#dcdcdc"/><text x="1720.4" y="1030.5" font-size="22" fill="#e0e0e0" text-anchor="middle">0.2</text><rect x="1335.2" y="696.3" width="9" height="2" fill="#dcdcdc"/><text x="1334.7" y="705.2" font-size="22.3" fill="#e0e0e0" text-anchor="end">0.2</text><rect x="1813.2" y="998.0" width="2" height="9" fill="#dcdcdc"/><text x="1814.2" y="1030.5" font-size="22" fill="#e0e0e0" text-anchor="middle">0.25</text><rect x="1335.2" y="621.2" width="9" height="2" fill="#dcdcdc"/><text x="1334.7" y="630.1" font-size="22.3" fill="#e0e0e0" text-anchor="end">0.25</text><rect x="1907.0" y="998.0" width="2" height="9" fill="#dcdcdc"/><text x="1908.0" y="1030.5" font-size="22" fill="#e0e0e0" text-anchor="middle">0.3</text><rect x="1335.2" y="546.2" width="9" height="2" fill="#dcdcdc"/><text x="1334.7" y="555.1" font-size="22.3" fill="#e0e0e0" text-anchor="end">0.3</text><rect x="2000.8" y="998.0" width="2" height="9" fill="#dcdcdc"/><text x="2001.8" y="1030.5" font-size="22" fill="#e0e0e0" text-anchor="middle">0.35</text><rect x="1335.2" y="471.1" width="9" height="2" fill="#dcdcdc"/><text x="1334.7" y="480.0" font-size="22.3" fill="#e0e0e0" text-anchor="end">0.35</text><rect x="2094.6" y="998.0" width="2" height="9" fill="#dcdcdc"/><text x="2095.6" y="1030.5" font-size="22" fill="#e0e0e0" text-anchor="middle">0.4</text><rect x="1335.2" y="396.1" width="9" height="2" fill="#dcdcdc"/><text x="1334.7" y="405.0" font-size="22.3" fill="#e0e0e0" text-anchor="end">0.4</text><rect x="2188.4" y="998.0" width="2" height="9" fill="#dcdcdc"/><text x="2189.4" y="1030.5" font-size="22" fill="#e0e0e0" text-anchor="middle">0.45</text><rect x="1335.2" y="321.0" width="9" height="2" fill="#dcdcdc"/><text x="1334.7" y="329.9" font-size="22.3" fill="#e0e0e0" text-anchor="end">0.45</text><rect x="2282.2" y="998.0" width="2" height="9" fill="#dcdcdc"/><text x="2283.2" y="1030.5" font-size="22" fill="#e0e0e0" text-anchor="middle">0.5</text><rect x="1335.2" y="246.0" width="9" height="2" fill="#dcdcdc"/><text x="1334.7" y="254.9" font-size="22.3" fill="#e0e0e0" text-anchor="end">0.5</text><rect x="2376.0" y="998.0" width="2" height="9" fill="#dcdcdc"/><text x="2377.0" y="1030.5" font-size="22" fill="#e0e0e0" text-anchor="middle">0.55</text><rect x="1335.2" y="170.9" width="9" height="2" fill="#dcdcdc"/><text x="1334.7" y="179.8" font-size="22.3" fill="#e0e0e0" text-anchor="end">0.55</text><g><rect x="1518.2" y="118.8" width="20.6" height="20.6" fill="none" stroke="#fff" stroke-width="2.2"/><rect x="1592.0" y="151.8" width="20.6" height="20.6" fill="none" stroke="#fff" stroke-width="2.2"/><rect x="1602.1" y="157.7" width="20.6" height="20.6" fill="none" stroke="#fff" stroke-width="2.2"/><rect x="1606.3" y="161.8" width="20.6" height="20.6" fill="none" stroke="#fff" stroke-width="2.2"/><rect x="1614.6" y="186.2" width="20.6" height="20.6" fill="none" stroke="#fff" stroke-width="2.2"/><rect x="1624.6" y="198.7" width="20.6" height="20.6" fill="none" stroke="#fff" stroke-width="2.2"/><rect x="1565.3" y="202.7" width="20.6" height="20.6" fill="none" stroke="#fff" stroke-width="2.2"/><rect x="1665.2" y="172.1" width="20.6" height="20.6" fill="none" stroke="#fff" stroke-width="2.2"/><rect x="1677.7" y="168.2" width="20.6" height="20.6" fill="none" stroke="#fff" stroke-width="2.2"/><rect x="1673.4" y="211.1" width="20.6" height="20.6" fill="none" stroke="#fff" stroke-width="2.2"/><rect x="1718.2" y="139.4" width="20.6" height="20.6" fill="none" stroke="#fff" stroke-width="2.2"/><rect x="1751.2" y="146.1" width="20.6" height="20.6" fill="none" stroke="#fff" stroke-width="2.2"/><rect x="1694.3" y="150.4" width="20.6" height="20.6" fill="none" stroke="#fff" stroke-width="2.2"/><rect x="1698.1" y="155.0" width="20.6" height="20.6" fill="none" stroke="#fff" stroke-width="2.2"/><rect x="1722.5" y="161.5" width="20.6" height="20.6" fill="none" stroke="#fff" stroke-width="2.2"/><rect x="1726.9" y="151.9" width="20.6" height="20.6" fill="none" stroke="#fff" stroke-width="2.2"/><rect x="1694.6" y="175.6" width="20.6" height="20.6" fill="none" stroke="#fff" stroke-width="2.2"/><rect x="1765.0" y="163.7" width="20.6" height="20.6" fill="none" stroke="#fff" stroke-width="2.2"/><rect x="1785.9" y="168.2" width="20.6" height="20.6" fill="none" stroke="#fff" stroke-width="2.2"/><rect x="1793.5" y="155.5" width="20.6" height="20.6" fill="none" stroke="#fff" stroke-width="2.2"/><rect x="1803.5" y="153.6" width="20.6" height="20.6" fill="none" stroke="#fff" stroke-width="2.2"/><rect x="1814.3" y="174.2" width="20.6" height="20.6" fill="none" stroke="#fff" stroke-width="2.2"/><rect x="1836.9" y="182.8" width="20.6" height="20.6" fill="none" stroke="#fff" stroke-width="2.2"/><rect x="1851.5" y="163.7" width="20.6" height="20.6" fill="none" stroke="#fff" stroke-width="2.2"/><rect x="1855.1" y="163.7" width="20.6" height="20.6" fill="none" stroke="#fff" stroke-width="2.2"/><rect x="1720.4" y="209.0" width="20.6" height="20.6" fill="none" stroke="#fff" stroke-width="2.2"/><rect x="1804.0" y="211.3" width="20.6" height="20.6" fill="none" stroke="#fff" stroke-width="2.2"/><rect x="1833.5" y="203.3" width="20.6" height="20.6" fill="none" stroke="#fff" stroke-width="2.2"/><rect x="1849.1" y="204.0" width="20.6" height="20.6" fill="none" stroke="#fff" stroke-width="2.2"/><rect x="1836.9" y="212.9" width="20.6" height="20.6" fill="none" stroke="#fff" stroke-width="2.2"/><rect x="1869.0" y="208.1" width="20.6" height="20.6" fill="none" stroke="#fff" stroke-width="2.2"/><rect x="1883.9" y="202.9" width="20.6" height="20.6" fill="none" stroke="#fff" stroke-width="2.2"/><rect x="1856.7" y="206.7" width="20.6" height="20.6" fill="none" stroke="#fff" stroke-width="2.2"/><rect x="1940.7" y="174.3" width="20.6" height="20.6" fill="none" stroke="#fff" stroke-width="2.2"/><rect x="2001.7" y="178.2" width="20.6" height="20.6" fill="none" stroke="#fff" stroke-width="2.2"/><rect x="1893.8" y="184.3" width="20.6" height="20.6" fill="none" stroke="#fff" stroke-width="2.2"/><rect x="1897.9" y="190.4" width="20.6" height="20.6" fill="none" stroke="#fff" stroke-width="2.2"/><rect x="1887.3" y="235.1" width="20.6" height="20.6" fill="none" stroke="#fff" stroke-width="2.2"/><rect x="2012.0" y="235.1" width="20.6" height="20.6" fill="none" stroke="#fff" stroke-width="2.2"/><rect x="2034.4" y="235.1" width="20.6" height="20.6" fill="none" stroke="#fff" stroke-width="2.2"/><rect x="2103.7" y="208.8" width="20.6" height="20.6" fill="none" stroke="#fff" stroke-width="2.2"/><rect x="2163.2" y="208.8" width="20.6" height="20.6" fill="none" stroke="#fff" stroke-width="2.2"/><rect x="2165.0" y="225.7" width="20.6" height="20.6" fill="none" stroke="#fff" stroke-width="2.2"/><rect x="2191.5" y="219.1" width="20.6" height="20.6" fill="none" stroke="#fff" stroke-width="2.2"/><rect x="2264.8" y="196.5" width="20.6" height="20.6" fill="none" stroke="#fff" stroke-width="2.2"/><rect x="2079.2" y="264.0" width="20.6" height="20.6" fill="none" stroke="#fff" stroke-width="2.2"/><rect x="1979.0" y="254.0" width="20.6" height="20.6" fill="none" stroke="#fff" stroke-width="2.2"/><rect x="1918.4" y="262.0" width="20.6" height="20.6" fill="none" stroke="#fff" stroke-width="2.2"/><rect x="1900.0" y="312.9" width="20.6" height="20.6" fill="none" stroke="#fff" stroke-width="2.2"/><rect x="1939.0" y="321.1" width="20.6" height="20.6" fill="none" stroke="#fff" stroke-width="2.2"/><rect x="1999.5" y="321.0" width="20.6" height="20.6" fill="none" stroke="#fff" stroke-width="2.2"/><rect x="1873.2" y="349.6" width="20.6" height="20.6" fill="none" stroke="#fff" stroke-width="2.2"/><rect x="1742.8" y="223.1" width="20.6" height="20.6" fill="none" stroke="#fff" stroke-width="2.2"/><rect x="1691.6" y="237.5" width="20.6" height="20.6" fill="none" stroke="#fff" stroke-width="2.2"/><rect x="1769.5" y="229.0" width="20.6" height="20.6" fill="none" stroke="#fff" stroke-width="2.2"/><rect x="1795.3" y="238.7" width="20.6" height="20.6" fill="none" stroke="#fff" stroke-width="2.2"/><rect x="1767.7" y="256.0" width="20.6" height="20.6" fill="none" stroke="#fff" stroke-width="2.2"/><rect x="1771.2" y="250.2" width="20.6" height="20.6" fill="none" stroke="#fff" stroke-width="2.2"/><rect x="1732.8" y="263.9" width="20.6" height="20.6" fill="none" stroke="#fff" stroke-width="2.2"/><rect x="1712.0" y="268.4" width="20.6" height="20.6" fill="none" stroke="#fff" stroke-width="2.2"/><rect x="1681.4" y="265.6" width="20.6" height="20.6" fill="none" stroke="#fff" stroke-width="2.2"/><rect x="1678.2" y="249.6" width="20.6" height="20.6" fill="none" stroke="#fff" stroke-width="2.2"/><rect x="1787.9" y="304.9" width="20.6" height="20.6" fill="none" stroke="#fff" stroke-width="2.2"/><rect x="1793.2" y="225.7" width="20.6" height="20.6" fill="none" stroke="#fff" stroke-width="2.2"/><rect x="1802.2" y="227.2" width="20.6" height="20.6" fill="none" stroke="#fff" stroke-width="2.2"/><rect x="1814.7" y="223.2" width="20.6" height="20.6" fill="none" stroke="#fff" stroke-width="2.2"/><rect x="1823.7" y="226.2" width="20.6" height="20.6" fill="none" stroke="#fff" stroke-width="2.2"/><rect x="1827.7" y="228.7" width="20.6" height="20.6" fill="none" stroke="#fff" stroke-width="2.2"/><rect x="1844.7" y="222.0" width="20.6" height="20.6" fill="none" stroke="#fff" stroke-width="2.2"/><rect x="1844.3" y="218.7" width="20.6" height="20.6" fill="none" stroke="#fff" stroke-width="2.2"/><rect x="1863.2" y="257.7" width="20.6" height="20.6" fill="none" stroke="#fff" stroke-width="2.2"/><rect x="1704.2" y="282.5" width="20.6" height="20.6" fill="none" stroke="#000" stroke-width="2.2"/><rect x="1601.9" y="221.6" width="20.6" height="20.6" fill="none" stroke="#fff" stroke-width="2.2"/><rect x="1624.6" y="226.7" width="20.6" height="20.6" fill="none" stroke="#fff" stroke-width="2.2"/><rect x="1630.8" y="241.5" width="20.6" height="20.6" fill="none" stroke="#fff" stroke-width="2.2"/><rect x="1555.3" y="262.0" width="20.6" height="20.6" fill="none" stroke="#fff" stroke-width="2.2"/><rect x="1553.4" y="269.8" width="20.6" height="20.6" fill="none" stroke="#fff" stroke-width="2.2"/><rect x="1591.9" y="274.0" width="20.6" height="20.6" fill="none" stroke="#fff" stroke-width="2.2"/><rect x="1624.4" y="274.0" width="20.6" height="20.6" fill="none" stroke="#fff" stroke-width="2.2"/><rect x="1561.3" y="304.9" width="20.6" height="20.6" fill="none" stroke="#fff" stroke-width="2.2"/><rect x="1604.0" y="306.9" width="20.6" height="20.6" fill="none" stroke="#fff" stroke-width="2.2"/><rect x="1630.6" y="331.4" width="20.6" height="20.6" fill="none" stroke="#fff" stroke-width="2.2"/><rect x="1667.5" y="325.1" width="20.6" height="20.6" fill="none" stroke="#fff" stroke-width="2.2"/><rect x="1663.2" y="333.1" width="20.6" height="20.6" fill="none" stroke="#fff" stroke-width="2.2"/><rect x="1661.4" y="353.7" width="20.6" height="20.6" fill="none" stroke="#fff" stroke-width="2.2"/><rect x="1720.3" y="331.3" width="20.6" height="20.6" fill="none" stroke="#fff" stroke-width="2.2"/><rect x="1697.8" y="363.8" width="20.6" height="20.6" fill="none" stroke="#fff" stroke-width="2.2"/><rect x="1573.5" y="337.5" width="20.6" height="20.6" fill="none" stroke="#fff" stroke-width="2.2"/><rect x="1573.1" y="361.8" width="20.6" height="20.6" fill="none" stroke="#fff" stroke-width="2.2"/><rect x="1592.1" y="368.2" width="20.6" height="20.6" fill="none" stroke="#fff" stroke-width="2.2"/><rect x="1600.2" y="394.7" width="20.6" height="20.6" fill="none" stroke="#fff" stroke-width="2.2"/><rect x="1732.5" y="386.4" width="20.6" height="20.6" fill="none" stroke="#fff" stroke-width="2.2"/><rect x="1777.2" y="347.7" width="20.6" height="20.6" fill="none" stroke="#fff" stroke-width="2.2"/><rect x="1755.0" y="394.5" width="20.6" height="20.6" fill="none" stroke="#fff" stroke-width="2.2"/><rect x="1818.2" y="398.5" width="20.6" height="20.6" fill="none" stroke="#fff" stroke-width="2.2"/><rect x="1614.4" y="439.3" width="20.6" height="20.6" fill="none" stroke="#fff" stroke-width="2.2"/><rect x="1662.7" y="453.2" width="20.6" height="20.6" fill="none" stroke="#fff" stroke-width="2.2"/><rect x="1663.7" y="455.7" width="20.6" height="20.6" fill="none" stroke="#fff" stroke-width="2.2"/><rect x="1669.2" y="543.6" width="20.6" height="20.6" fill="none" stroke="#fff" stroke-width="2.2"/><rect x="1646.8" y="577.9" width="20.6" height="20.6" fill="none" stroke="#fff" stroke-width="2.2"/><rect x="1663.3" y="749.3" width="20.6" height="20.6" fill="none" stroke="#fff" stroke-width="2.2"/><rect x="1875.5" y="447.2" width="20.6" height="20.6" fill="none" stroke="#fff" stroke-width="2.2"/><rect x="1942.6" y="492.2" width="20.6" height="20.6" fill="none" stroke="#fff" stroke-width="2.2"/><circle cx="1534.9" cy="133.3" r="6.3" fill="#00f00a" stroke="#000" stroke-width="1.8"/><circle cx="1604.1" cy="163.9" r="6.3" fill="#698737" stroke="#000" stroke-width="1.8"/><circle cx="1617.9" cy="172.7" r="6.3" fill="#6e9146" stroke="#000" stroke-width="1.8"/><circle cx="1614.4" cy="168.0" r="6.3" fill="#7da055" stroke="#000" stroke-width="1.8"/><circle cx="1628.5" cy="194.3" r="6.3" fill="#789650" stroke="#000" stroke-width="1.8"/><circle cx="1637.0" cy="210.8" r="6.3" fill="#73a05a" stroke="#000" stroke-width="1.8"/><circle cx="1579.9" cy="217.1" r="6.3" fill="#32785a" stroke="#000" stroke-width="1.8"/><circle cx="1679.3" cy="180.2" r="6.3" fill="#829646" stroke="#000" stroke-width="1.8"/><circle cx="1691.9" cy="178.0" r="6.3" fill="#b9af41" stroke="#000" stroke-width="1.8"/><circle cx="1687.8" cy="220.8" r="6.3" fill="#64734b" stroke="#000" stroke-width="1.8"/><circle cx="1712.8" cy="166.9" r="6.3" fill="#b4af3c" stroke="#000" stroke-width="1.8"/><circle cx="1707.9" cy="159.3" r="6.3" fill="#afaf41" stroke="#000" stroke-width="1.8"/><circle cx="1743.1" cy="161.8" r="6.3" fill="#b4af3c" stroke="#000" stroke-width="1.8"/><circle cx="1736.6" cy="153.4" r="6.3" fill="#f5f01e" stroke="#000" stroke-width="1.8"/><circle cx="1734.8" cy="172.0" r="6.3" fill="#969132" stroke="#000" stroke-width="1.8"/><circle cx="1707.9" cy="188.3" r="6.3" fill="#5f552d" stroke="#000" stroke-width="1.8"/><circle cx="1767.2" cy="159.6" r="6.3" fill="#afaf3c" stroke="#000" stroke-width="1.8"/><circle cx="1785.4" cy="174.0" r="6.3" fill="#ebb93c" stroke="#000" stroke-width="1.8"/><circle cx="1803.8" cy="177.8" r="6.3" fill="#af8741" stroke="#000" stroke-width="1.8"/><circle cx="1814.1" cy="166.2" r="6.3" fill="#f5b92d" stroke="#000" stroke-width="1.8"/><circle cx="1828.2" cy="166.2" r="6.3" fill="#f5b928" stroke="#000" stroke-width="1.8"/><circle cx="1832.3" cy="184.8" r="6.3" fill="#d79646" stroke="#000" stroke-width="1.8"/><circle cx="1851.2" cy="190.4" r="6.3" fill="#b48241" stroke="#000" stroke-width="1.8"/><circle cx="1871.2" cy="174.0" r="6.3" fill="#e1a032" stroke="#000" stroke-width="1.8"/><circle cx="1882.1" cy="174.0" r="6.3" fill="#faaa28" stroke="#000" stroke-width="1.8"/><circle cx="1736.7" cy="220.7" r="6.3" fill="#e1c8a0" stroke="#000" stroke-width="1.8"/><circle cx="1820.7" cy="220.7" r="6.3" fill="#c38769" stroke="#000" stroke-width="1.8"/><circle cx="1846.7" cy="214.7" r="6.3" fill="#875f3c" stroke="#000" stroke-width="1.8"/><circle cx="1861.2" cy="214.7" r="6.3" fill="#6e4b32" stroke="#000" stroke-width="1.8"/><circle cx="1862.9" cy="231.9" r="6.3" fill="#f09687" stroke="#000" stroke-width="1.8"/><circle cx="1851.0" cy="224.6" r="6.3" fill="#c88c73" stroke="#000" stroke-width="1.8"/><circle cx="1869.4" cy="224.5" r="6.3" fill="#4b2d23" stroke="#000" stroke-width="1.8"/><circle cx="1882.0" cy="222.8" r="6.3" fill="#694b28" stroke="#000" stroke-width="1.8"/><circle cx="1918.2" cy="196.3" r="6.3" fill="#cd9132" stroke="#000" stroke-width="1.8"/><circle cx="1918.3" cy="202.6" r="6.3" fill="#966428" stroke="#000" stroke-width="1.8"/><circle cx="1902.0" cy="213.0" r="6.3" fill="#c8874b" stroke="#000" stroke-width="1.8"/><circle cx="1969.0" cy="186.4" r="6.3" fill="#dc9137" stroke="#000" stroke-width="1.8"/><circle cx="2030.4" cy="190.5" r="6.3" fill="#f58c32" stroke="#000" stroke-width="1.8"/><circle cx="1899.8" cy="247.4" r="6.3" fill="#c88769" stroke="#000" stroke-width="1.8"/><circle cx="2030.4" cy="245.5" r="6.3" fill="#c35a5a" stroke="#000" stroke-width="1.8"/><circle cx="2046.7" cy="245.5" r="6.3" fill="#b43c41" stroke="#000" stroke-width="1.8"/><circle cx="2124.1" cy="219.0" r="6.3" fill="#d7553c" stroke="#000" stroke-width="1.8"/><circle cx="2177.5" cy="217.2" r="6.3" fill="#be373c" stroke="#000" stroke-width="1.8"/><circle cx="2173.4" cy="233.7" r="6.3" fill="#b93241" stroke="#000" stroke-width="1.8"/><circle cx="2191.9" cy="227.1" r="6.3" fill="#aa1e37" stroke="#000" stroke-width="1.8"/><circle cx="2256.7" cy="206.7" r="6.3" fill="#ff0505" stroke="#000" stroke-width="1.8"/><circle cx="2091.3" cy="274.4" r="6.3" fill="#b43246" stroke="#000" stroke-width="1.8"/><circle cx="1981.5" cy="262.0" r="6.3" fill="#552823" stroke="#000" stroke-width="1.8"/><circle cx="1928.7" cy="272.0" r="6.3" fill="#b9697d" stroke="#000" stroke-width="1.8"/><circle cx="1898.0" cy="327.2" r="6.3" fill="#462d28" stroke="#000" stroke-width="1.8"/><circle cx="1950.6" cy="332.6" r="6.3" fill="#be5f87" stroke="#000" stroke-width="1.8"/><circle cx="2006.2" cy="332.6" r="6.3" fill="#a01955" stroke="#000" stroke-width="1.8"/><circle cx="1881.8" cy="363.5" r="6.3" fill="#b95f82" stroke="#000" stroke-width="1.8"/><circle cx="1751.0" cy="237.4" r="6.3" fill="#463228" stroke="#000" stroke-width="1.8"/><circle cx="1704.1" cy="249.5" r="6.3" fill="#d4e1c8" stroke="#000" stroke-width="1.8"/><circle cx="1691.2" cy="261.8" r="6.3" fill="#c8cdc6" stroke="#000" stroke-width="1.8"/><circle cx="1693.7" cy="276.4" r="6.3" fill="#c8c8c3" stroke="#000" stroke-width="1.8"/><circle cx="1724.1" cy="278.1" r="6.3" fill="#cdcdc8" stroke="#000" stroke-width="1.8"/><circle cx="1745.1" cy="276.1" r="6.3" fill="#e1d2c3" stroke="#000" stroke-width="1.8"/><circle cx="1771.1" cy="282.2" r="6.3" fill="#000000" stroke="#000" stroke-width="1.8"/><circle cx="1787.3" cy="239.1" r="6.3" fill="#f5c8a0" stroke="#000" stroke-width="1.8"/><circle cx="1783.7" cy="261.0" r="6.3" fill="#1e1914" stroke="#000" stroke-width="1.8"/><circle cx="1787.6" cy="257.9" r="6.3" fill="#f5c8a5" stroke="#000" stroke-width="1.8"/><circle cx="1779.8" cy="267.6" r="6.3" fill="#f0c3aa" stroke="#000" stroke-width="1.8"/><circle cx="1804.0" cy="251.7" r="6.3" fill="#6e4b32" stroke="#000" stroke-width="1.8"/><circle cx="1807.2" cy="235.7" r="6.3" fill="#be8764" stroke="#000" stroke-width="1.8"/><circle cx="1818.5" cy="238.2" r="6.3" fill="#b47d5a" stroke="#000" stroke-width="1.8"/><circle cx="1816.3" cy="235.3" r="6.3" fill="#c38769" stroke="#000" stroke-width="1.8"/><circle cx="1830.6" cy="231.0" r="6.3" fill="#d7966e" stroke="#000" stroke-width="1.8"/><circle cx="1828.7" cy="235.3" r="6.3" fill="#eba082" stroke="#000" stroke-width="1.8"/><circle cx="1839.1" cy="235.3" r="6.3" fill="#c88c6e" stroke="#000" stroke-width="1.8"/><circle cx="1877.2" cy="267.9" r="6.3" fill="#be7d6e" stroke="#000" stroke-width="1.8"/><circle cx="1799.7" cy="314.5" r="6.3" fill="#b9968c" stroke="#000" stroke-width="1.8"/><circle cx="1719.5" cy="294.0" r="6.3" fill="#282828" stroke="#000" stroke-width="1.8"/><circle cx="1716.0" cy="289.5" r="6.3" fill="#3c3c3c" stroke="#000" stroke-width="1.8"/><circle cx="1712.4" cy="296.5" r="6.3" fill="#2d2d2d" stroke="#000" stroke-width="1.8"/><circle cx="1614.2" cy="233.3" r="6.3" fill="#78a05f" stroke="#000" stroke-width="1.8"/><circle cx="1640.9" cy="255.8" r="6.3" fill="#8caf96" stroke="#000" stroke-width="1.8"/><circle cx="1639.1" cy="243.8" r="6.3" fill="#233c32" stroke="#000" stroke-width="1.8"/><circle cx="1569.3" cy="271.6" r="6.3" fill="#287d64" stroke="#000" stroke-width="1.8"/><circle cx="1573.7" cy="282.3" r="6.3" fill="#1e4132" stroke="#000" stroke-width="1.8"/><circle cx="1606.4" cy="290.6" r="6.3" fill="#4b9196" stroke="#000" stroke-width="1.8"/><circle cx="1637.0" cy="286.0" r="6.3" fill="#7db9a0" stroke="#000" stroke-width="1.8"/><circle cx="1573.6" cy="323.1" r="6.3" fill="#00f5f0" stroke="#000" stroke-width="1.8"/><circle cx="1618.0" cy="323.1" r="6.3" fill="#55969b" stroke="#000" stroke-width="1.8"/><circle cx="1643.0" cy="347.2" r="6.3" fill="#7d96a5" stroke="#000" stroke-width="1.8"/><circle cx="1682.3" cy="339.2" r="6.3" fill="#646e82" stroke="#000" stroke-width="1.8"/><circle cx="1673.6" cy="347.2" r="6.3" fill="#7d96b4" stroke="#000" stroke-width="1.8"/><circle cx="1673.6" cy="366.1" r="6.3" fill="#6e87aa" stroke="#000" stroke-width="1.8"/><circle cx="1732.8" cy="345.5" r="6.3" fill="#828287" stroke="#000" stroke-width="1.8"/><circle cx="1708.0" cy="377.8" r="6.3" fill="#7d96b9" stroke="#000" stroke-width="1.8"/><circle cx="1590.1" cy="359.6" r="6.3" fill="#197887" stroke="#000" stroke-width="1.8"/><circle cx="1592.0" cy="380.2" r="6.3" fill="#192850" stroke="#000" stroke-width="1.8"/><circle cx="1604.5" cy="382.4" r="6.3" fill="#328796" stroke="#000" stroke-width="1.8"/><circle cx="1614.3" cy="413.0" r="6.3" fill="#378796" stroke="#000" stroke-width="1.8"/><circle cx="1740.9" cy="400.9" r="6.3" fill="#6e7382" stroke="#000" stroke-width="1.8"/><circle cx="1781.7" cy="359.8" r="6.3" fill="#413c41" stroke="#000" stroke-width="1.8"/><circle cx="1763.5" cy="408.4" r="6.3" fill="#4b4b55" stroke="#000" stroke-width="1.8"/><circle cx="1814.2" cy="417.0" r="6.3" fill="#413741" stroke="#000" stroke-width="1.8"/><circle cx="1632.6" cy="464.0" r="6.3" fill="#374155" stroke="#000" stroke-width="1.8"/><circle cx="1673.5" cy="463.8" r="6.3" fill="#7387a5" stroke="#000" stroke-width="1.8"/><circle cx="1673.5" cy="480.1" r="6.3" fill="#505f8c" stroke="#000" stroke-width="1.8"/><circle cx="1682.0" cy="563.5" r="6.3" fill="#5a5f87" stroke="#000" stroke-width="1.8"/><circle cx="1661.3" cy="600.8" r="6.3" fill="#232864" stroke="#000" stroke-width="1.8"/><circle cx="1671.6" cy="759.7" r="6.3" fill="#0a0aff" stroke="#000" stroke-width="1.8"/><circle cx="1875.2" cy="460.1" r="6.3" fill="#643c6e" stroke="#000" stroke-width="1.8"/><circle cx="1948.9" cy="500.4" r="6.3" fill="#ff00ff" stroke="#000" stroke-width="1.8"/></g><svg x="677.5" y="589.0" width="559.5" height="381.2" viewBox="677.5 589.0 559.5 381.2"><rect x="953.5" y="593.9" width="20.6" height="20.6" fill="none" stroke="#fff" stroke-width="2.2"/><rect x="916.7" y="673.8" width="20.6" height="20.6" fill="none" stroke="#fff" stroke-width="2.2"/><rect x="1030.9" y="704.5" width="20.6" height="20.6" fill="none" stroke="#fff" stroke-width="2.2"/><rect x="1114.7" y="708.1" width="20.6" height="20.6" fill="none" stroke="#fff" stroke-width="2.2"/><rect x="680.3" y="906.5" width="20.6" height="20.6" fill="none" stroke="#fff" stroke-width="2.2"/><rect x="1169.6" y="910.1" width="20.6" height="20.6" fill="none" stroke="#fff" stroke-width="2.2"/><rect x="857.4" y="961.1" width="20.6" height="20.6" fill="none" stroke="#fff" stroke-width="2.2"/><rect x="945.2" y="767.6" width="20.6" height="20.6" fill="none" stroke="#000" stroke-width="2.2"/><circle cx="965.6" cy="614.3" r="6.3" fill="#d2d7cd" stroke="#000" stroke-width="1.8"/><circle cx="932.7" cy="685.9" r="6.3" fill="#cdcdcd" stroke="#000" stroke-width="1.8"/><circle cx="1045.1" cy="716.6" r="6.3" fill="#d2d4cd" stroke="#000" stroke-width="1.8"/><circle cx="1130.8" cy="724.6" r="6.3" fill="#e1d7c8" stroke="#000" stroke-width="1.8"/><circle cx="1208.5" cy="769.4" r="6.3" fill="#000000" stroke="#000" stroke-width="1.8"/><circle cx="1185.7" cy="918.6" r="6.3" fill="#b49691" stroke="#000" stroke-width="1.8"/><circle cx="688.1" cy="938.9" r="6.3" fill="#646e87" stroke="#000" stroke-width="1.8"/><circle cx="947.0" cy="779.6" r="6.3" fill="#828282" stroke="#000" stroke-width="1.8"/><circle cx="954.9" cy="788.5" r="6.3" fill="#c8c8c8" stroke="#000" stroke-width="1.8"/><circle cx="964.2" cy="775.8" r="6.3" fill="#787878" stroke="#000" stroke-width="1.8"/><circle cx="951.4" cy="783.2" r="6.3" fill="#5a5a5a" stroke="#000" stroke-width="1.8"/><circle cx="947.0" cy="790.5" r="6.3" fill="#373737" stroke="#000" stroke-width="1.8"/><circle cx="938.8" cy="790.1" r="6.3" fill="#2d2d2d" stroke="#000" stroke-width="1.8"/><circle cx="955.4" cy="768.8" r="6.3" fill="#555555" stroke="#000" stroke-width="1.8"/></svg></svg>
</div></body></html>
